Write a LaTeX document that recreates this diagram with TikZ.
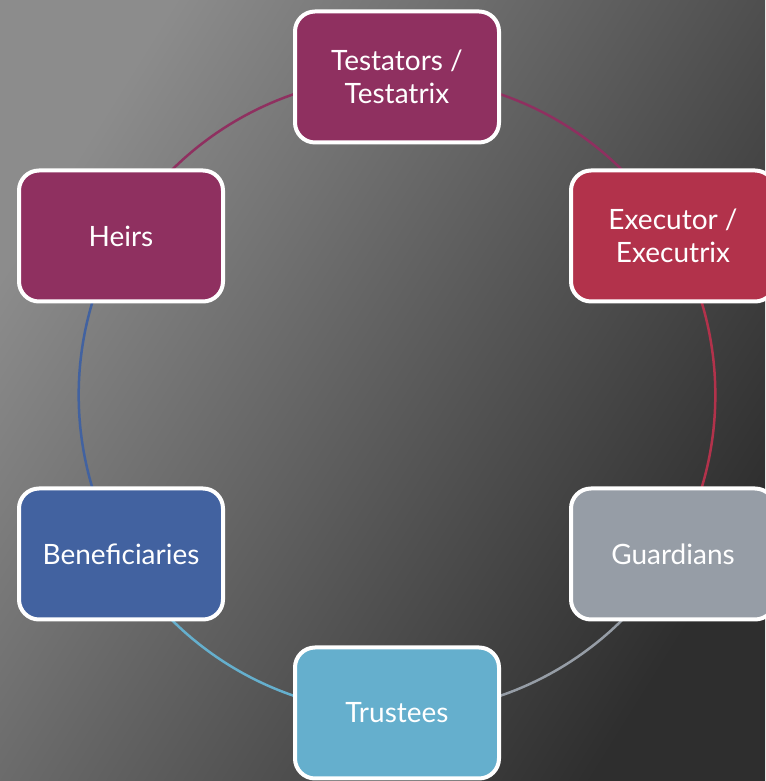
\documentclass[tikz,border=0pt]{standalone}
\usepackage{fontspec}
\setmainfont{Lato}
\definecolor{plum}{HTML}{8F3060}
\definecolor{crimson}{HTML}{B2324B}
\definecolor{slate}{HTML}{969DA6}
\definecolor{sky}{HTML}{65AFCD}
\definecolor{navy}{HTML}{4262A0}
\definecolor{bgA}{HTML}{8C8C8C}
\definecolor{bgB}{HTML}{2E2E2E}
\pgfdeclarelayer{bg}
\pgfdeclarelayer{links}
\pgfsetlayers{bg,links,main}
\begin{document}
\begin{tikzpicture}[x=1pt,y=1pt,
  stage/.style={draw=white, line width=4pt, rounded corners=20pt,
    minimum width=204pt, minimum height=131pt, text=white, align=center,
    font=\fontsize{28}{33}\selectfont, inner sep=0pt},
  link/.style={line width=2.5pt, bend left=30, looseness=0.91}]
\useasboundingbox (0,0) rectangle (765,781);
\begin{pgfonlayer}{bg}
  \shade[top color=bgA, bottom color=bgB, shading angle=58] (0,0) rectangle (765,781);
\end{pgfonlayer}
\node[stage, fill=plum]     (T)  at (397,704) {Testators /\\Testatrix};
\node[stage, fill=crimson]  (E)  at (673,545) {Executor /\\Executrix};
\node[stage, fill=slate]    (G)  at (673,227) {Guardians};
\node[stage, fill=sky]      (Tr) at (397,68)  {Trustees};
\node[stage, fill=navy]     (B)  at (121,227) {Beneficiaries};
\node[stage, fill=plum]     (H)  at (121,545) {Heirs};
\begin{pgfonlayer}{links}
  \draw[link, plum]    (T.center)  to (E.center);
  \draw[link, crimson] (E.center)  to (G.center);
  \draw[link, slate]   (G.center)  to (Tr.center);
  \draw[link, sky]     (Tr.center) to (B.center);
  \draw[link, navy]    (B.center)  to (H.center);
  \draw[link, plum]    (H.center)  to (T.center);
\end{pgfonlayer}
\end{tikzpicture}
\end{document}
